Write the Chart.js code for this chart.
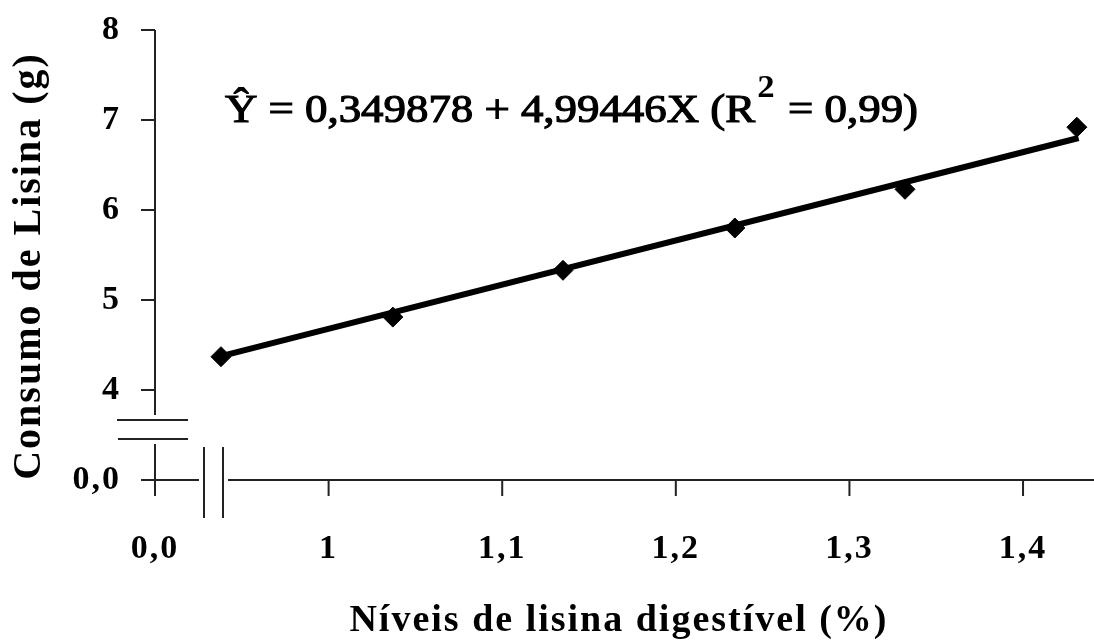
<!DOCTYPE html>
<html>
<head>
<meta charset="utf-8">
<script src="https://cdn.jsdelivr.net/npm/chart.js@4.4.0/dist/chart.umd.min.js"></script>
<style>
  html, body { margin: 0; padding: 0; background: #fff; }
</style>
</head>
<body>
<canvas id="c" width="1094" height="642"></canvas>
<script>
// valores
const niveis = [0.938, 1.037, 1.135, 1.234, 1.332, 1.431];
const consumo = [4.37, 4.81, 5.33, 5.80, 6.23, 6.92];
// reta ajustada (extremos)
const ajusteX = [0.937, 1.432];
const ajusteY = [4.37, 6.80];

const xTicks = [0.9, 1.0, 1.1, 1.2, 1.3, 1.4];
const xTickLabels = ['0,0', '1', '1,1', '1,2', '1,3', '1,4'];
const yTicks = [3, 4, 5, 6, 7, 8];
const yTickLabels = ['0,0', '4', '5', '6', '7', '8'];
const equacao = ['Ŷ = 0,349878 + 4,99446X (R', '2', ' = 0,99)'];
const tituloY = 'Consumo de Lisina (g)';

const serif = "'Liberation Serif', 'Times New Roman', serif";
const axisColor = '#222';

// eixos com quebras, desenhados a partir das escalas
const axesPlugin = {
  id: 'axes',
  beforeDraw(chart) {
    chart.ctx.letterSpacing = '2px';
  },
  beforeDatasetsDraw(chart) {
    const { ctx, scales: { x, y } } = chart;
    const ax = x.getPixelForValue(xTicks[0]);
    const by = y.getPixelForValue(yTicks[0]);
    const ty = y.getPixelForValue(yTicks[yTicks.length - 1]);
    ctx.save();
    ctx.letterSpacing = '0px';
    ctx.strokeStyle = axisColor;
    ctx.lineWidth = 2;
    ctx.beginPath();
    // eixo y (parte superior)
    ctx.moveTo(ax, ty);
    ctx.lineTo(ax, by - 65);
    // eixo y (parte inferior)
    ctx.moveTo(ax, by - 36);
    ctx.lineTo(ax, by + 16);
    // quebra do eixo y
    ctx.moveTo(ax - 38, by - 60);
    ctx.lineTo(ax + 33, by - 60);
    ctx.moveTo(ax - 37, by - 41);
    ctx.lineTo(ax + 33, by - 41);
    // ticks do eixo y
    yTicks.forEach(v => {
      const py = y.getPixelForValue(v);
      if (v === yTicks[0]) return;
      ctx.moveTo(ax - 14, py);
      ctx.lineTo(ax, py);
    });
    // eixo x
    ctx.moveTo(ax - 14, by);
    ctx.lineTo(ax + 44, by);
    ctx.moveTo(ax + 49, by - 33);
    ctx.lineTo(ax + 49, by + 38);
    ctx.moveTo(ax + 68, by - 33);
    ctx.lineTo(ax + 68, by + 38);
    ctx.moveTo(ax + 73, by);
    ctx.lineTo(chart.width, by);
    xTicks.slice(1).forEach(v => {
      const px = x.getPixelForValue(v);
      ctx.moveTo(px, by);
      ctx.lineTo(px, by + 16);
    });
    ctx.stroke();
    ctx.restore();
  },
  afterDraw(chart) {
    const { ctx, chartArea } = chart;
    ctx.save();
    // título do eixo y
    ctx.letterSpacing = '2px';
    ctx.fillStyle = '#000';
    ctx.font = 'bold 40px ' + serif;
    ctx.textAlign = 'center';
    ctx.textBaseline = 'middle';
    ctx.translate(30, (chartArea.top + chartArea.bottom) / 2 + 11);
    ctx.rotate(-Math.PI / 2);
    ctx.fillText(tituloY, 0, 0);
    ctx.restore();

    // equação
    ctx.save();
    ctx.letterSpacing = '0px';
    ctx.fillStyle = '#000';
    ctx.textBaseline = 'alphabetic';
    const bigFont = '40px ' + serif;
    const supFont = 'bold 31px ' + serif;
    ctx.font = bigFont;
    const w0 = ctx.measureText(equacao[0]).width;
    const w2 = ctx.measureText(equacao[2]).width;
    ctx.font = supFont;
    const w1 = ctx.measureText(equacao[1]).width + 4;
    const sx = 693 / (w0 + w1 + w2);
    ctx.translate(225, 122);
    ctx.scale(sx, 1);
    ctx.font = bigFont;
    ctx.lineWidth = 1.2;
    ctx.strokeStyle = '#000';
    ctx.fillText(equacao[0], 0, 0);
    ctx.strokeText(equacao[0], 0, 0);
    ctx.font = supFont;
    ctx.fillText(equacao[1], w0 + 2, -25);
    ctx.font = bigFont;
    ctx.fillText(equacao[2], w0 + w1, 0);
    ctx.strokeText(equacao[2], w0 + w1, 0);
    ctx.restore();
  }
};

new Chart(document.getElementById('c'), {
  type: 'scatter',
  data: {
    datasets: [
      {
        label: 'Ajuste',
        data: ajusteX.map((v, i) => ({ x: v, y: ajusteY[i] })),
        showLine: true,
        borderColor: '#000',
        borderWidth: 6,
        pointRadius: 0,
        clip: false,
        order: 1
      },
      {
        label: 'Consumo',
        data: niveis.map((v, i) => ({ x: v, y: consumo[i] })),
        showLine: false,
        pointStyle: 'rectRot',
        pointRadius: 10,
        backgroundColor: '#000',
        borderColor: '#000',
        clip: false,
        order: 0
      }
    ]
  },
  options: {
    responsive: false,
    animation: false,
    devicePixelRatio: 1,
    layout: { padding: { top: 30, left: 0, right: 0, bottom: 0 } },
    plugins: {
      legend: { display: false },
      tooltip: { enabled: false }
    },
    scales: {
      x: {
        type: 'linear',
        min: 0.9,
        max: 1.4345,
        afterBuildTicks: s => { s.ticks = xTicks.map(v => ({ value: v })); },
        afterFit: s => { s.height = 162; },
        grid: { display: false, drawTicks: false },
        border: { display: false },
        ticks: {
          autoSkip: false,
          maxRotation: 0,
          padding: 49,
          color: '#000',
          font: { family: serif, size: 34, weight: 'bold' },
          callback: (v, i) => xTickLabels[i]
        },
        title: {
          display: true,
          text: 'Níveis de lisina digestível (%)',
          color: '#000',
          font: { family: serif, size: 38, weight: 'bold', lineHeight: 1.1 },
          padding: { top: 0, bottom: 0 }
        }
      },
      y: {
        type: 'linear',
        min: 3,
        max: 8,
        afterBuildTicks: s => { s.ticks = yTicks.map(v => ({ value: v })); },
        afterFit: s => { s.width = 155; s.paddingTop = 0; s.paddingBottom = 0; },
        grid: { display: false, drawTicks: false },
        border: { display: false },
        ticks: {
          autoSkip: false,
          padding: 34,
          color: '#000',
          font: { family: serif, size: 34, weight: 'bold' },
          callback: (v, i) => yTickLabels[i]
        },
        title: { display: false }
      }
    }
  },
  plugins: [axesPlugin]
});
</script>
</body>
</html>
